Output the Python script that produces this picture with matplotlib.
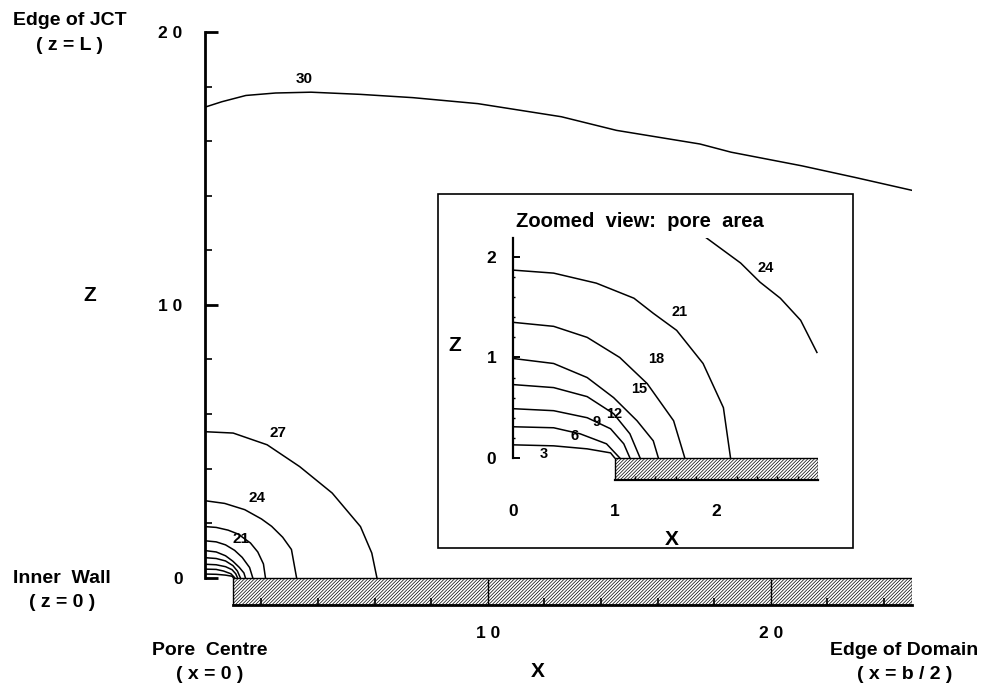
import matplotlib.pyplot as plt
from matplotlib.patches import Rectangle
from matplotlib.ticker import FixedLocator

plt.rcParams['font.family'] = ['Liberation Sans', 'DejaVu Sans']
plt.rcParams['font.weight'] = 'bold'
plt.rcParams['axes.labelweight'] = 'bold'
plt.rcParams['hatch.linewidth'] = 0.5

# wall (shaded strip) geometry, in model units
wall_start = 1.0
domain_edge = 25.0
wall_thick_main = 1.0
wall_end_zoom = 3.0
wall_thick_zoom = 0.22

# contours near the pore (same curves used in both panels)
c3_x = [0, 0.4, 0.73, 0.96, 1.0]
c3_z = [0.13, 0.12, 0.09, 0.05, 0]
c6_x = [0, 0.4, 0.66, 0.92, 1.05]
c6_z = [0.31, 0.30, 0.24, 0.14, 0]
c9_x = [0, 0.4, 0.73, 0.96, 1.09, 1.15]
c9_z = [0.49, 0.47, 0.40, 0.29, 0.14, 0]
c12_x = [0, 0.4, 0.73, 0.99, 1.15, 1.25]
c12_z = [0.73, 0.70, 0.61, 0.44, 0.24, 0]
c15_x = [0, 0.4, 0.73, 0.99, 1.22, 1.38, 1.43]
c15_z = [0.99, 0.94, 0.80, 0.60, 0.37, 0.17, 0]
c18_x = [0, 0.4, 0.73, 1.05, 1.32, 1.58, 1.69]
c18_z = [1.35, 1.31, 1.20, 1.00, 0.74, 0.37, 0]
c21_x = [0, 0.4, 0.82, 1.19, 1.38, 1.61, 1.87, 2.07, 2.14]
c21_z = [1.87, 1.84, 1.74, 1.59, 1.44, 1.27, 0.94, 0.50, 0]

# outer contours, full domain
c24_x = [0, 0.7, 1.41, 2.0, 2.36, 2.75, 3.06, 3.24]
c24_z = [2.82, 2.72, 2.49, 2.15, 1.88, 1.48, 1.03, 0]
c27_x = [0, 1.0, 2.2, 3.35, 4.5, 5.5, 5.9, 6.08]
c27_z = [5.35, 5.3, 4.87, 4.07, 3.1, 1.87, 0.9, 0]
c30_x = [0, 0.6, 1.45, 2.5, 3.75, 5.5, 7.35, 9.65, 12.6, 14.55, 17.5, 18.6, 21.1, 23.0, 25.0]
c30_z = [17.25, 17.45, 17.68, 17.77, 17.8, 17.72, 17.6, 17.38, 16.9, 16.4, 15.9, 15.6, 15.1, 14.67, 14.2]

# part of the 24 contour seen in the zoomed view
z24_x = [1.89, 2.24, 2.43, 2.63, 2.83, 2.99]
z24_z = [2.20, 1.94, 1.75, 1.59, 1.37, 1.05]

inner_x = [c3_x, c6_x, c9_x, c12_x, c15_x, c18_x, c21_x]
inner_z = [c3_z, c6_z, c9_z, c12_z, c15_z, c18_z, c21_z]

fig = plt.figure(figsize=(9.85, 6.85), dpi=100)

# ---- main panel ----
ax = fig.add_axes([0.208, 0.117, 0.718, 0.836])
for xs, zs in zip(inner_x, inner_z):
    ax.plot(xs, zs, color='black', lw=1.1)
ax.plot(c24_x, c24_z, color='black', lw=1.1)
ax.plot(c27_x, c27_z, color='black', lw=1.1)
ax.plot(c30_x, c30_z, color='black', lw=1.1)
ax.bar(wall_start, -wall_thick_main, width=domain_edge - wall_start, bottom=0,
       align='edge', facecolor='white', edgecolor='black', hatch='//////////', lw=1)

ax.text(1.26, 1.43, '21', fontsize=11, ha='center', va='center')
ax.text(1.83, 2.93, '24', fontsize=11, ha='center', va='center')
ax.text(2.6, 5.32, '27', fontsize=11, ha='center', va='center')
ax.text(3.5, 18.3, '30', fontsize=11, ha='center', va='center')

ax.set_xlim(0, domain_edge)
ax.set_ylim(-1, 20)
for s in ['top', 'right']:
    ax.spines[s].set_visible(False)
ax.spines['left'].set_bounds(0, 20)
ax.spines['bottom'].set_bounds(wall_start, domain_edge)
ax.spines['left'].set_linewidth(2)
ax.spines['bottom'].set_linewidth(2)
ax.set_xticks([10, 20])
ax.set_xticklabels(['1 0', '2 0'])
ax.xaxis.set_minor_locator(FixedLocator([2, 4, 6, 8, 12, 14, 16, 18, 22, 24]))
ax.set_yticks([0, 10, 20])
ax.set_yticklabels(['0', '1 0', '2 0'])
ax.yaxis.set_minor_locator(FixedLocator([2, 4, 6, 8, 12, 14, 16, 18]))
ax.tick_params(axis='x', which='major', direction='in', length=19, width=1,
               pad=15, labelsize=12.5)
ax.tick_params(axis='x', which='minor', direction='in', length=5, width=1.2)
ax.tick_params(axis='y', which='major', direction='in', length=9, width=2,
               pad=16, labelsize=12.5)
ax.tick_params(axis='y', which='minor', direction='in', length=5, width=1.2)
ax.set_xlabel('X', fontsize=15)
ax.xaxis.set_label_coords(0.471, -0.1)
ax.set_ylabel('Z', fontsize=15, rotation=0)
ax.yaxis.set_label_coords(-0.163, 0.524)

fig.text(0.071, 0.970, 'Edge of JCT', fontsize=14, ha='center', va='center')
fig.text(0.071, 0.934, '( z = L )', fontsize=14, ha='center', va='center')
fig.text(0.063, 0.156, 'Inner  Wall', fontsize=14, ha='center', va='center')
fig.text(0.063, 0.120, '( z = 0 )', fontsize=14, ha='center', va='center')
fig.text(0.213, 0.051, 'Pore  Centre', fontsize=14, ha='center', va='center')
fig.text(0.213, 0.015, '( x = 0 )', fontsize=14, ha='center', va='center')
fig.text(0.918, 0.051, 'Edge of Domain', fontsize=14, ha='center', va='center')
fig.text(0.918, 0.015, '( x = b / 2 )', fontsize=14, ha='center', va='center')

# ---- zoomed view ----
fig.add_artist(Rectangle((0.4447, 0.2), 0.4213, 0.5168, transform=fig.transFigure,
                         fill=False, edgecolor='black', lw=1.2))
fig.text(0.65, 0.676, 'Zoomed  view:  pore  area', fontsize=14.5,
         ha='center', va='center')

ins = fig.add_axes([0.5208, 0.2993, 0.3096, 0.3533])
ins.patch.set_alpha(0)
for xs, zs in zip(inner_x, inner_z):
    ins.plot(xs, zs, color='black', lw=1.1)
ins.plot(z24_x, z24_z, color='black', lw=1.1)
ins.bar(wall_start, -wall_thick_zoom, width=wall_end_zoom - wall_start, bottom=0,
        align='edge', facecolor='white', edgecolor='black', hatch='//////////', lw=1)

ins.text(0.30, 0.04, '3', fontsize=10.5, ha='center', va='center')
ins.text(0.61, 0.22, '6', fontsize=10.5, ha='center', va='center')
ins.text(0.82, 0.36, '9', fontsize=10.5, ha='center', va='center')
ins.text(1.0, 0.44, '12', fontsize=10.5, ha='center', va='center')
ins.text(1.24, 0.69, '15', fontsize=10.5, ha='center', va='center')
ins.text(1.41, 0.98, '18', fontsize=10.5, ha='center', va='center')
ins.text(1.64, 1.45, '21', fontsize=10.5, ha='center', va='center')
ins.text(2.49, 1.89, '24', fontsize=10.5, ha='center', va='center')

ins.set_xlim(0, wall_end_zoom)
ins.set_ylim(-wall_thick_zoom, 2.19)
for s in ['top', 'right']:
    ins.spines[s].set_visible(False)
ins.spines['left'].set_bounds(0, 2.19)
ins.spines['bottom'].set_bounds(wall_start, wall_end_zoom)
ins.spines['left'].set_linewidth(1.6)
ins.spines['bottom'].set_linewidth(1.6)
ins.set_xticks([0, 1, 2])
ins.set_xticklabels(['0', '1', '2'])
ins.xaxis.set_minor_locator(FixedLocator([1.2, 1.4, 1.6, 1.8, 2.0, 2.2, 2.4, 2.6, 2.8]))
ins.set_yticks([0, 1, 2])
ins.yaxis.set_minor_locator(FixedLocator([0.2, 0.4, 0.6, 0.8, 1.2, 1.4, 1.6, 1.8]))
ins.tick_params(axis='x', which='major', length=0, pad=17, labelsize=12.5)
ins.tick_params(axis='x', which='minor', direction='in', length=3, width=1)
ins.tick_params(axis='y', which='major', direction='in', length=5, width=1.4,
                pad=12, labelsize=12.5)
ins.tick_params(axis='y', which='minor', direction='in', length=1.5, width=1)
ins.set_xlabel('X', fontsize=15)
ins.xaxis.set_label_coords(0.521, -0.207)
ins.set_ylabel('Z', fontsize=15, rotation=0)
ins.yaxis.set_label_coords(-0.19, 0.517)

fig.savefig('out.png', dpi=100)
